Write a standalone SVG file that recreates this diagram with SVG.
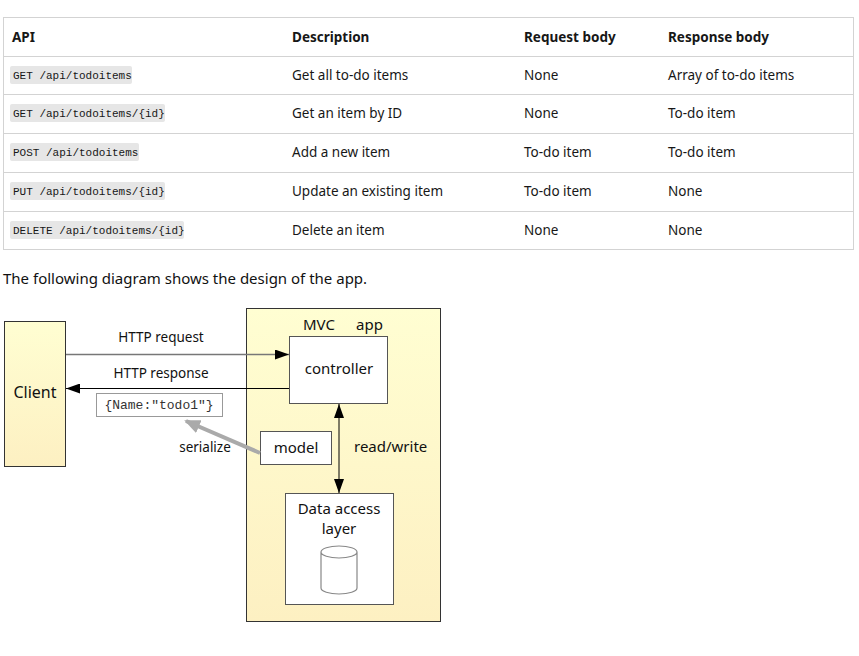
<svg xmlns="http://www.w3.org/2000/svg" width="859" height="656" viewBox="0 0 859 656">
<defs>
<linearGradient id="yel" x1="0" y1="0" x2="0" y2="1">
<stop offset="0" stop-color="#fffed2"/>
<stop offset="1" stop-color="#fdf0c2"/>
</linearGradient>
<marker id="ah" viewBox="0 0 14 10" refX="14" refY="5" markerWidth="14" markerHeight="10" markerUnits="userSpaceOnUse" orient="auto-start-reverse">
<path d="M0,0 L14,5 L0,10 Z" fill="#000"/>
</marker>
<marker id="gh" viewBox="0 0 16 14" refX="14" refY="7" markerWidth="16" markerHeight="14" markerUnits="userSpaceOnUse" orient="auto">
<path d="M0,0 L16,7 L0,14 Z" fill="#aaa"/>
</marker>
</defs>
<style>
.t{font-family:"Noto Sans","Open Sans",sans-serif;font-size:13.5px;fill:#171717}
.h{font-family:"Noto Sans","Open Sans",sans-serif;font-size:13.5px;font-weight:bold;fill:#171717}
.c{font-family:"Liberation Mono","DejaVu Sans Mono",monospace;font-size:11px;fill:#171717}
.cb{fill:#e6e6e6}
.g{stroke:#d3d3d3;stroke-width:1;fill:none}
.d{font-family:"Noto Sans","Open Sans",sans-serif;font-size:15px;fill:#111}
.s{font-size:13.5px}
.box{fill:#fff;stroke:#555;stroke-width:1}
</style>
<g id="table">
<rect class="g" x="3.5" y="17.5" width="850" height="232"/>
<line class="g" x1="3" y1="56.5" x2="854" y2="56.5"/>
<line class="g" x1="3" y1="94.5" x2="854" y2="94.5"/>
<line class="g" x1="3" y1="133.5" x2="854" y2="133.5"/>
<line class="g" x1="3" y1="172.5" x2="854" y2="172.5"/>
<line class="g" x1="3" y1="211.5" x2="854" y2="211.5"/>
<text class="h" x="12" y="42">API</text>
<text class="h" x="292" y="42">Description</text>
<text class="h" x="524" y="42">Request body</text>
<text class="h" x="668" y="42">Response body</text>
<rect class="cb" x="10" y="66" width="122" height="18" rx="2"/>
<text class="c" x="13" y="79">GET /api/todoitems</text>
<text class="t" x="292" y="80">Get all to-do items</text>
<text class="t" x="524" y="80">None</text>
<text class="t" x="668" y="80">Array of to-do items</text>
<rect class="cb" x="10" y="104" width="155" height="18" rx="2"/>
<text class="c" x="13" y="117">GET /api/todoitems/{id}</text>
<text class="t" x="292" y="118">Get an item by ID</text>
<text class="t" x="524" y="118">None</text>
<text class="t" x="668" y="118">To-do item</text>
<rect class="cb" x="10" y="143" width="129" height="18" rx="2"/>
<text class="c" x="13" y="156">POST /api/todoitems</text>
<text class="t" x="292" y="157">Add a new item</text>
<text class="t" x="524" y="157">To-do item</text>
<text class="t" x="668" y="157">To-do item</text>
<rect class="cb" x="10" y="182" width="155" height="18" rx="2"/>
<text class="c" x="13" y="195">PUT /api/todoitems/{id}</text>
<text class="t" x="292" y="196">Update an existing item</text>
<text class="t" x="524" y="196">To-do item</text>
<text class="t" x="668" y="196">None</text>
<rect class="cb" x="10" y="221" width="174" height="18" rx="2"/>
<text class="c" x="13" y="234">DELETE /api/todoitems/{id}</text>
<text class="t" x="292" y="235">Delete an item</text>
<text class="t" x="524" y="235">None</text>
<text class="t" x="668" y="235">None</text>
</g>
<text class="d" x="3" y="284">The following diagram shows the design of the app.</text>
<g id="client">
<rect x="4.5" y="321.5" width="61" height="145" fill="url(#yel)" stroke="#333"/>
<text class="d" x="35" y="398" text-anchor="middle" style="font-size:16px">Client</text>
</g>
<g id="app">
<rect x="246.5" y="308.5" width="194" height="313" fill="url(#yel)" stroke="#333"/>
<text class="d" x="303" y="330">MVC</text>
<text class="d" x="356" y="330">app</text>
</g>
<g id="controller">
<rect class="box" x="289.5" y="336.5" width="98" height="67"/>
<text class="d" x="339" y="374" text-anchor="middle">controller</text>
</g>
<g id="json">
<rect x="96.5" y="393.5" width="126" height="23" fill="#fff" stroke="#999"/>
<text x="159" y="409" text-anchor="middle" font-family="Liberation Mono, monospace" font-size="13" fill="#333">{Name:"todo1"}</text>
</g>
<g id="model">
<rect class="box" x="260.5" y="431.5" width="71" height="33"/>
<text class="d" x="296" y="453" text-anchor="middle">model</text>
</g>
<g id="dal">
<rect class="box" x="285.5" y="493.5" width="108" height="111"/>
<text class="d" x="339" y="514" text-anchor="middle">Data access</text>
<text class="d" x="339" y="534" text-anchor="middle">layer</text>
<path d="M321,552 v36 a18,6 0 0 0 36,0 v-36 a18,6 0 0 0 -36,0 a18,6 0 0 0 36,0" fill="#fff" stroke="#888" stroke-width="1.2"/>
</g>
<g id="connectors">
<line x1="66" y1="354.5" x2="289" y2="354.5" stroke="#777" stroke-width="1.5" marker-end="url(#ah)"/>
<text class="d s" x="161" y="342" text-anchor="middle">HTTP request</text>
<line x1="289" y1="388.5" x2="66" y2="388.5" stroke="#000" stroke-width="1" marker-end="url(#ah)"/>
<text class="d s" x="161" y="378" text-anchor="middle">HTTP response</text>
<line x1="260" y1="453" x2="186" y2="421" stroke="#aaa" stroke-width="4" marker-end="url(#gh)"/>
<text class="d s" x="205" y="452" text-anchor="middle">serialize</text>
<line x1="339" y1="404" x2="339" y2="493" stroke="#000" stroke-width="1" marker-start="url(#ah)" marker-end="url(#ah)"/>
<text class="d" x="354" y="452">read/write</text>
</g>
</svg>
